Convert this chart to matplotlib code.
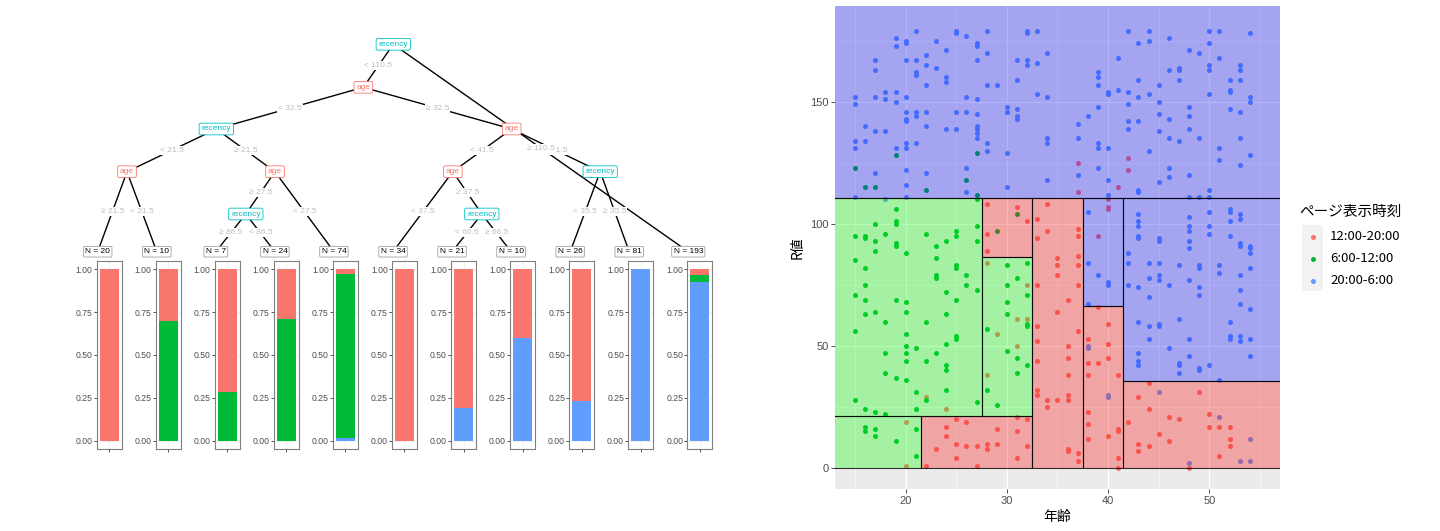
import numpy as np
import matplotlib
matplotlib.use('Agg')
import matplotlib.pyplot as plt
from matplotlib.patches import Rectangle

plt.rcParams['font.family'] = ['Liberation Sans', 'Noto Sans CJK JP', 'DejaVu Sans']

# ---------------- data ----------------
classes = ['12:00-20:00', '6:00-12:00', '20:00-6:00']
class_colors = ['#F8766D', '#00BA38', '#619CFF']
fill_colors = [(1, 0, 0, 0.3), (0, 1, 0, 0.3), (0, 0, 1, 0.3)]

# leaves of the decision tree (counts per class)
leaf_n = [20, 10, 7, 24, 74, 34, 21, 10, 26, 81, 193]
leaf_red = [20, 3, 5, 7, 2, 34, 17, 4, 20, 0, 6]
leaf_green = [0, 7, 2, 17, 71, 0, 0, 0, 0, 0, 8]
leaf_blue = [0, 0, 0, 0, 1, 0, 4, 6, 6, 81, 179]
bar_ticks = [0, 0.25, 0.5, 0.75, 1.0]
bar_ticklabels = ['0.00', '0.25', '0.50', '0.75', '1.00']

# inner nodes: split variable
node_var = {'n1': 'recency', 'n2': 'age', 'n3': 'recency', 'n4': 'age', 'n5': 'age',
            'n6': 'recency', 'n7': 'age', 'n8': 'age', 'n9': 'recency', 'n10': 'recency'}
# edges: parent, child, split label
edges = [('n1', 'n2', '< 110.5'),
         ('n2', 'n3', '< 32.5'), ('n2', 'n7', '≥ 32.5'),
         ('n3', 'n4', '< 21.5'), ('n3', 'n5', '≥ 21.5'),
         ('n4', 'L0', '≥ 21.5'), ('n4', 'L1', '< 21.5'),
         ('n5', 'n6', '≥ 27.5'), ('n5', 'L4', '< 27.5'),
         ('n6', 'L2', '≥ 86.5'), ('n6', 'L3', '< 86.5'),
         ('n7', 'n8', '< 41.5'), ('n7', 'n10', '≥ 41.5'),
         ('n8', 'L5', '< 37.5'), ('n8', 'n9', '≥ 37.5'),
         ('n9', 'L6', '< 66.5'), ('n9', 'L7', '≥ 66.5'),
         ('n10', 'L8', '< 35.5'), ('n10', 'L9', '≥ 35.5'),
         ('n1', 'L10', '≥ 110.5')]

# partition of (age, recency) plane: xmin, xmax, ymin, ymax, class index
inf = np.inf
partition = [(-inf, inf, 110.5, inf, 2),
             (-inf, 21.5, 0, 21.5, 1),
             (21.5, 32.5, 0, 21.5, 0),
             (-inf, 27.5, 21.5, 110.5, 1),
             (27.5, 32.5, 21.5, 86.5, 1),
             (27.5, 32.5, 86.5, 110.5, 0),
             (32.5, 37.5, 0, 110.5, 0),
             (37.5, 41.5, 0, 66.5, 0),
             (37.5, 41.5, 66.5, 110.5, 2),
             (41.5, inf, 0, 35.5, 0),
             (41.5, inf, 35.5, 110.5, 2)]

# observations: age -> list of recency values, per class
pts_red = {20: [19, 1], 22: [29, 1], 23: [8], 24: [24, 17, 13], 25: [20, 10, 4], 26: [19, 9],
           27: [9, 1], 28: [108, 96, 89, 84, 38, 10, 8], 29: [55, 16, 10],
           31: [107, 61, 50, 21, 15, 4], 32: [101, 75, 61, 20, 9],
           33: [102, 94, 75, 58, 52, 44, 32, 30], 34: [108, 97, 28, 25], 35: [86, 83, 79, 64, 28],
           36: [69, 50, 45, 38, 30, 28, 8, 7], 37: [125, 113, 98, 95, 87, 83, 75, 56, 6, 3],
           38: [53, 43, 38, 23, 18, 12], 39: [95, 66, 43], 40: [110, 107, 106, 59, 51, 45, 13],
           41: [115, 38, 16, 15, 4, 0], 42: [127, 122, 19], 43: [29, 10, 7], 44: [35, 24, 9],
           45: [14], 46: [21, 11], 47: [20], 48: [0], 49: [31], 50: [22, 17], 51: [17, 5],
           52: [17, 12, 9]}
pts_green = {15: [123, 95, 85, 71, 56, 28], 16: [115, 95, 94, 82, 75, 69, 63, 24, 17, 15],
             17: [115, 100, 93, 89, 64, 23, 16, 13], 18: [96, 60, 47, 39, 22],
             19: [128, 106, 101, 100, 92, 91, 69, 37, 11], 20: [88, 68, 64, 55, 50, 47, 44, 36],
             21: [49, 31, 24, 16, 5], 22: [114, 96, 60, 44, 28], 23: [91, 86, 79, 78, 47],
             24: [93, 72, 63, 51, 42, 40, 32], 25: [97, 95, 83, 82, 69, 54, 53], 26: [118, 79, 75],
             27: [129, 112, 110, 99, 93, 73, 27], 28: [57, 32], 29: [97, 26],
             30: [83, 75, 68, 63, 48], 31: [104, 78, 45, 39], 32: [84, 71, 59, 58, 42]}
pts_blue = {15: [152, 149, 134, 131, 111], 16: [140, 134], 17: [167, 163, 152, 138, 121],
            18: [154, 151, 138, 110], 19: [176, 173, 154, 150, 131],
            20: [175, 174, 167, 152, 146, 143, 142, 133, 131, 122, 116, 111],
            21: [179, 167, 162, 161, 146, 144, 133], 22: [169, 165, 157, 146, 140, 121],
            23: [175, 164], 24: [171, 160, 158, 139], 25: [179, 178, 146, 139],
            26: [177, 152, 146, 123, 113], 27: [174, 173, 167, 151, 145, 140, 139, 137, 135],
            28: [179, 170, 157, 133, 130], 29: [157], 30: [148, 146, 129, 115],
            31: [167, 159, 147, 144, 143], 32: [179, 178, 167, 165], 33: [179, 166, 153],
            34: [170, 152, 135, 133, 118], 37: [141, 135, 120], 38: [144, 105, 84, 67, 50, 49],
            39: [162, 160, 157, 148, 133, 131, 123, 79],
            40: [154, 153, 131, 118, 112, 76, 75, 30, 29], 41: [168, 155],
            42: [179, 154, 149, 142, 139, 88, 84, 75],
            43: [174, 159, 152, 142, 114, 113, 104, 101, 99, 95, 94, 74, 60, 47, 44, 42],
            44: [179, 175, 153, 130, 84, 78, 70, 58, 53],
            45: [157, 150, 145, 138, 117, 94, 93, 84, 79, 77, 59, 58, 31],
            46: [176, 163, 143, 135, 123, 119, 75, 49],
            47: [164, 163, 159, 134, 83, 61, 43, 42, 39],
            48: [171, 148, 144, 139, 120, 111, 103, 99, 97, 93, 90, 77, 53, 46, 2],
            49: [170, 135, 111, 83, 82, 74, 71, 41, 40],
            50: [179, 174, 165, 163, 153, 114, 111, 105, 99, 96, 42],
            51: [179, 168, 131, 126, 83, 80, 36, 21],
            52: [159, 155, 154, 147, 106, 105, 101, 95, 60, 54, 53],
            53: [165, 163, 159, 146, 135, 124, 104, 102, 92, 91, 79, 73, 67, 54, 52, 3],
            54: [178, 152, 150, 128, 91, 90, 88, 82, 65, 53, 46, 12, 3]}

x_ticks = [20, 30, 40, 50]
y_ticks = [0, 50, 100, 150]
x_label = '年齢'
y_label = 'R値'
legend_title = 'ページ表示時刻'

# ---------------- layout ----------------
W, H = 1440, 531
fig = plt.figure(figsize=(W / 100, H / 100), dpi=100)


def fax(x0, y0, x1, y1, **kw):
    return fig.add_axes([x0 / W, 1 - y1 / H, (x1 - x0) / W, (y1 - y0) / H], **kw)


node_pos = {'n1': (393.3, 44.3), 'n2': (363.3, 87.3), 'n3': (216.3, 129), 'n4': (127, 171.7),
            'n5': (275, 171.7), 'n6': (245.8, 214), 'n7': (511.7, 129), 'n8': (452.8, 171.7),
            'n9': (481.8, 214), 'n10': (600.2, 171.7)}
panel_left0, panel_step, panel_w = 96.7, 59.06, 25
panel_top, panel_bot = 260.7, 449.3
leaf_label_y = 251.7
for i in range(len(leaf_n)):
    node_pos['L%d' % i] = (panel_left0 + panel_step * i + 1, leaf_label_y)

# ---------------- tree ----------------
ax_t = fax(0, 0, W, H)
ax_t.set_xlim(0, W)
ax_t.set_ylim(H, 0)
ax_t.axis('off')

var_color = {'recency': '#00BFC4', 'age': '#F8766D'}
z = 3
for p, c, lab in edges:
    (x0, y0), (x1, y1) = node_pos[p], node_pos[c]
    ax_t.plot([x0, x1], [y0, y1], color='black', lw=1.0, zorder=2, solid_capstyle='butt')
for p, c, lab in edges:
    (x0, y0), (x1, y1) = node_pos[p], node_pos[c]
    z += 0.01
    ax_t.text((x0 + x1) / 2, (y0 + y1) / 2, lab, fontsize=6, color='#BEBEBE',
              ha='center', va='center', zorder=z,
              bbox=dict(boxstyle='square,pad=0.12', fc='white', ec='none'))
for n, var in node_var.items():
    x, y = node_pos[n]
    col = var_color[var]
    ax_t.text(x, y, var, fontsize=6, color=col, ha='center', va='center', zorder=6,
              bbox=dict(boxstyle='round,pad=0.28,rounding_size=0.2', fc='white',
                        ec=col, lw=0.6, alpha=1))
for i, n in enumerate(leaf_n):
    x, y = node_pos['L%d' % i]
    ax_t.text(x, y, 'N = %d' % n, fontsize=6, color='black', ha='center', va='center', zorder=6,
              bbox=dict(boxstyle='round,pad=0.22,rounding_size=0.15', fc='white',
                        ec='#A0A0A0', lw=0.6))

# leaf bar panels
for i, n in enumerate(leaf_n):
    left = panel_left0 + panel_step * i
    ax = fax(left, panel_top, left + panel_w, panel_bot)
    ax.set_xlim(0.4, 1.6)
    ax.set_ylim(-0.05, 1.05)
    b = leaf_blue[i] / n
    g = leaf_green[i] / n
    r = leaf_red[i] / n
    ax.bar([1], [b], width=0.92, bottom=0, color=class_colors[2], zorder=2)
    ax.bar([1], [g], width=0.92, bottom=b, color=class_colors[1], zorder=2)
    ax.bar([1], [r], width=0.92, bottom=b + g, color=class_colors[0], zorder=2)
    ax.set_yticks(bar_ticks)
    ax.set_yticklabels(bar_ticklabels)
    ax.set_xticks([1])
    ax.set_xticklabels([''])
    ax.tick_params(axis='both', length=2, width=0.6, color='#333333', labelsize=6.2,
                   labelcolor='#4D4D4D', pad=1)
    ax.grid(True, color='#EBEBEB', lw=0.5, zorder=0)
    for s in ax.spines.values():
        s.set_color('#808080')
        s.set_linewidth(0.8)

# ---------------- partition scatter ----------------
XL = (13.04, 56.99)
YL = (-8.7, 189.2)
ax = fax(835.3, 6, 1280, 489.3)
ax.set_facecolor('#EBEBEB')
ax.set_xlim(*XL)
ax.set_ylim(*YL)
ax.set_xticks(x_ticks)
ax.set_yticks(y_ticks)
ax.set_xticks([15, 25, 35, 45, 55], minor=True)
ax.set_yticks([25, 75, 125, 175], minor=True)
ax.grid(True, which='major', color='white', lw=0.9, zorder=0)
ax.grid(True, which='minor', color='white', lw=0.45, zorder=0)
ax.set_axisbelow(True)
ax.tick_params(which='major', length=3, width=0.6, color='#333333', labelsize=8,
               labelcolor='#4D4D4D', pad=2)
ax.tick_params(which='minor', length=0)
for s in ax.spines.values():
    s.set_visible(False)

for k, d in enumerate([pts_red, pts_green, pts_blue]):
    xs = [a for a, rs in d.items() for _ in rs]
    ys = [v for a, rs in d.items() for v in rs]
    ax.scatter(xs, ys, s=13, color=class_colors[k], linewidths=0, zorder=2)

for (x0, x1, y0, y1, k) in partition:
    x0 = XL[0] - 5 if x0 == -inf else x0
    x1 = XL[1] + 5 if x1 == inf else x1
    y1 = YL[1] + 5 if y1 == inf else y1
    ax.add_patch(Rectangle((x0, y0), x1 - x0, y1 - y0, facecolor=fill_colors[k],
                           edgecolor=(0, 0, 0, 0.8), lw=0.8, zorder=3))

ax.set_xlabel(x_label, fontsize=10, color='black', labelpad=3,
              family=['Noto Sans CJK JP', 'DejaVu Sans'])
ax.set_ylabel(y_label, fontsize=10, color='black', labelpad=4,
              family=['Noto Sans CJK JP', 'DejaVu Sans'])

# ---------------- legend ----------------
ax_t.text(1299, 212, legend_title, fontsize=10.5, ha='left', va='center',
          family=['Noto Sans CJK JP', 'DejaVu Sans'])
ax_t.add_patch(Rectangle((1301.7, 225), 21.6, 66, facecolor='#F2F2F2', edgecolor='none'))
for k, lab in enumerate(classes):
    yy = 236.5 + 22 * k
    ax_t.scatter([1312.5], [yy], s=13, color=class_colors[k], linewidths=0)
    ax_t.text(1330, yy, lab, fontsize=9.5, ha='left', va='center',
              family=['Noto Sans CJK JP', 'DejaVu Sans'])

fig.savefig('out.png', dpi=100)
